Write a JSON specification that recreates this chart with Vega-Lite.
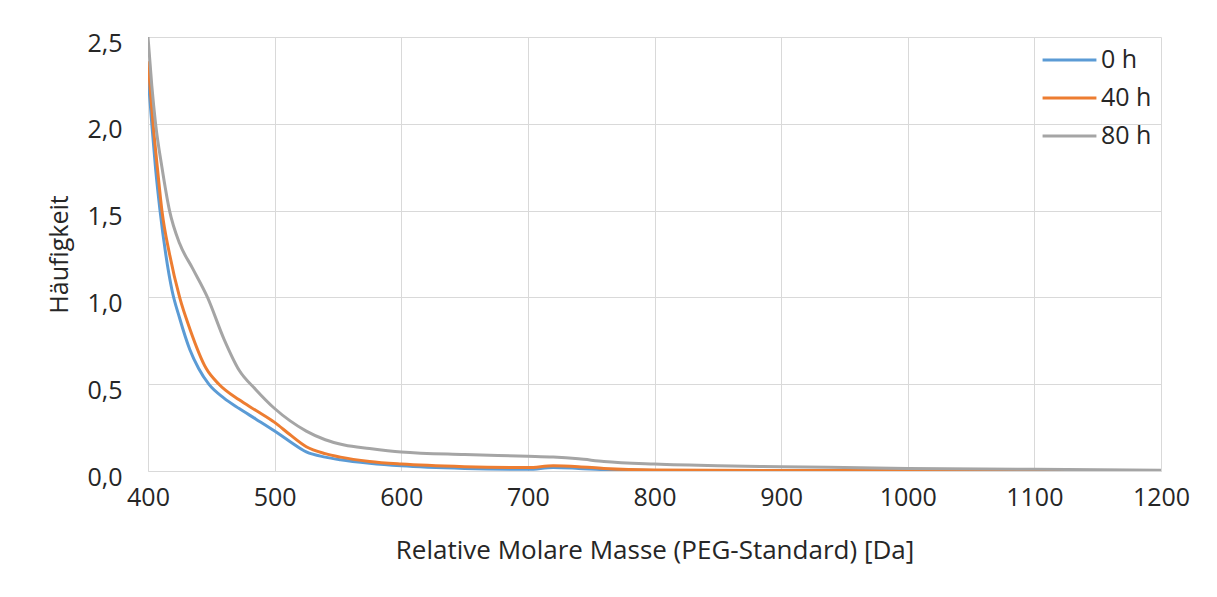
{
  "$schema": "https://vega.github.io/schema/vega-lite/v6.json",
  "width": 1013,
  "height": 434,
  "autosize": {"type": "none"},
  "padding": {"left": 148, "top": 37, "right": 56, "bottom": 126},
  "background": "white",
  "config": {
    "locale": {"number": {"decimal": ",", "thousands": ".", "grouping": [3], "currency": ["", " €"]}},
    "view": {"stroke": null},
    "font": "Open Sans"
  },
  "data": {
    "values": [
      {"m": 400, "h": 2.28, "s": "0 h"}, {"m": 403, "h": 2.0, "s": "0 h"}, {"m": 406, "h": 1.74, "s": "0 h"},
      {"m": 409.5, "h": 1.5, "s": "0 h"}, {"m": 414, "h": 1.25, "s": "0 h"}, {"m": 419, "h": 1.04, "s": "0 h"},
      {"m": 425, "h": 0.88, "s": "0 h"}, {"m": 433, "h": 0.70, "s": "0 h"}, {"m": 440, "h": 0.59, "s": "0 h"},
      {"m": 448, "h": 0.50, "s": "0 h"}, {"m": 460, "h": 0.42, "s": "0 h"}, {"m": 472, "h": 0.36, "s": "0 h"},
      {"m": 485, "h": 0.30, "s": "0 h"}, {"m": 500, "h": 0.23, "s": "0 h"}, {"m": 512, "h": 0.17, "s": "0 h"},
      {"m": 525, "h": 0.11, "s": "0 h"}, {"m": 540, "h": 0.08, "s": "0 h"}, {"m": 552, "h": 0.065, "s": "0 h"},
      {"m": 575, "h": 0.045, "s": "0 h"}, {"m": 600, "h": 0.03, "s": "0 h"}, {"m": 650, "h": 0.015, "s": "0 h"},
      {"m": 700, "h": 0.01, "s": "0 h"}, {"m": 720, "h": 0.02, "s": "0 h"}, {"m": 740, "h": 0.015, "s": "0 h"},
      {"m": 760, "h": 0.008, "s": "0 h"}, {"m": 800, "h": 0.003, "s": "0 h"}, {"m": 1000, "h": 0.001, "s": "0 h"},
      {"m": 1200, "h": 0.0, "s": "0 h"},
      {"m": 400, "h": 2.36, "s": "40 h"}, {"m": 404, "h": 2.0, "s": "40 h"}, {"m": 407.5, "h": 1.74, "s": "40 h"},
      {"m": 411, "h": 1.5, "s": "40 h"}, {"m": 417, "h": 1.25, "s": "40 h"}, {"m": 425, "h": 1.0, "s": "40 h"},
      {"m": 433, "h": 0.82, "s": "40 h"}, {"m": 446, "h": 0.59, "s": "40 h"}, {"m": 456, "h": 0.50, "s": "40 h"},
      {"m": 472, "h": 0.41, "s": "40 h"}, {"m": 485, "h": 0.35, "s": "40 h"}, {"m": 500, "h": 0.28, "s": "40 h"},
      {"m": 512, "h": 0.21, "s": "40 h"}, {"m": 525, "h": 0.14, "s": "40 h"}, {"m": 540, "h": 0.10, "s": "40 h"},
      {"m": 552, "h": 0.08, "s": "40 h"}, {"m": 575, "h": 0.055, "s": "40 h"}, {"m": 600, "h": 0.04, "s": "40 h"},
      {"m": 650, "h": 0.025, "s": "40 h"}, {"m": 700, "h": 0.02, "s": "40 h"}, {"m": 720, "h": 0.03, "s": "40 h"},
      {"m": 740, "h": 0.025, "s": "40 h"}, {"m": 760, "h": 0.015, "s": "40 h"}, {"m": 800, "h": 0.006, "s": "40 h"},
      {"m": 900, "h": 0.003, "s": "40 h"}, {"m": 1000, "h": 0.002, "s": "40 h"}, {"m": 1200, "h": 0.001, "s": "40 h"},
      {"m": 400, "h": 2.5, "s": "80 h"}, {"m": 403, "h": 2.22, "s": "80 h"}, {"m": 406, "h": 2.0, "s": "80 h"},
      {"m": 411, "h": 1.75, "s": "80 h"}, {"m": 417, "h": 1.5, "s": "80 h"}, {"m": 425, "h": 1.31, "s": "80 h"},
      {"m": 435, "h": 1.17, "s": "80 h"}, {"m": 447, "h": 1.0, "s": "80 h"}, {"m": 460, "h": 0.76, "s": "80 h"},
      {"m": 472, "h": 0.58, "s": "80 h"}, {"m": 485, "h": 0.47, "s": "80 h"}, {"m": 500, "h": 0.36, "s": "80 h"},
      {"m": 512, "h": 0.29, "s": "80 h"}, {"m": 525, "h": 0.23, "s": "80 h"}, {"m": 540, "h": 0.18, "s": "80 h"},
      {"m": 555, "h": 0.15, "s": "80 h"}, {"m": 575, "h": 0.13, "s": "80 h"}, {"m": 600, "h": 0.11, "s": "80 h"},
      {"m": 650, "h": 0.095, "s": "80 h"}, {"m": 700, "h": 0.085, "s": "80 h"}, {"m": 720, "h": 0.08, "s": "80 h"},
      {"m": 740, "h": 0.07, "s": "80 h"}, {"m": 760, "h": 0.055, "s": "80 h"}, {"m": 800, "h": 0.04, "s": "80 h"},
      {"m": 850, "h": 0.03, "s": "80 h"}, {"m": 900, "h": 0.025, "s": "80 h"}, {"m": 1000, "h": 0.015, "s": "80 h"},
      {"m": 1100, "h": 0.01, "s": "80 h"}, {"m": 1200, "h": 0.005, "s": "80 h"}
    ]
  },
  "mark": {"type": "line", "interpolate": "monotone", "strokeWidth": 3, "clip": true},
  "encoding": {
    "x": {
      "field": "m", "type": "quantitative",
      "scale": {"domain": [400, 1200], "nice": false, "zero": false},
      "axis": {
        "title": "Relative Molare Masse (PEG-Standard) [Da]",
        "values": [400, 500, 600, 700, 800, 900, 1000, 1100, 1200],
        "format": "d", "labelFlush": false,
        "grid": true, "gridColor": "#d9d9d9", "gridWidth": 1,
        "domain": true, "domainColor": "#d9d9d9", "ticks": false,
        "labelFont": "Open Sans", "labelFontSize": 25, "labelColor": "#262626", "labelPadding": 14,
        "titleFont": "Open Sans", "titleFontSize": 26, "titleColor": "#262626", "titleFontWeight": "normal", "titlePadding": 27
      }
    },
    "y": {
      "field": "h", "type": "quantitative",
      "scale": {"domain": [0, 2.5], "nice": false},
      "axis": {
        "title": "Häufigkeit",
        "values": [0, 0.5, 1, 1.5, 2, 2.5],
        "format": ".1f", "labelFlush": false,
        "grid": true, "gridColor": "#d9d9d9", "gridWidth": 1,
        "domain": false, "ticks": false,
        "labelFont": "Open Sans", "labelFontSize": 25, "labelColor": "#262626", "labelPadding": 26, "labelOffset": 6,
        "titleFont": "Open Sans", "titleFontSize": 25, "titleColor": "#262626", "titleFontWeight": "normal", "titlePadding": 14
      }
    },
    "color": {
      "field": "s", "type": "nominal",
      "scale": {"domain": ["0 h", "40 h", "80 h"], "range": ["#5B9BD5", "#ED7D31", "#A5A5A5"]},
      "legend": {
        "title": null, "orient": "none", "legendX": 893, "legendY": 4,
        "symbolType": "stroke", "symbolSize": 2900, "symbolStrokeWidth": 3,
        "labelFont": "Open Sans", "labelFontSize": 25, "labelColor": "#262626", "labelOffset": 3,
        "clipHeight": 38, "rowPadding": 0
      }
    }
  }
}
